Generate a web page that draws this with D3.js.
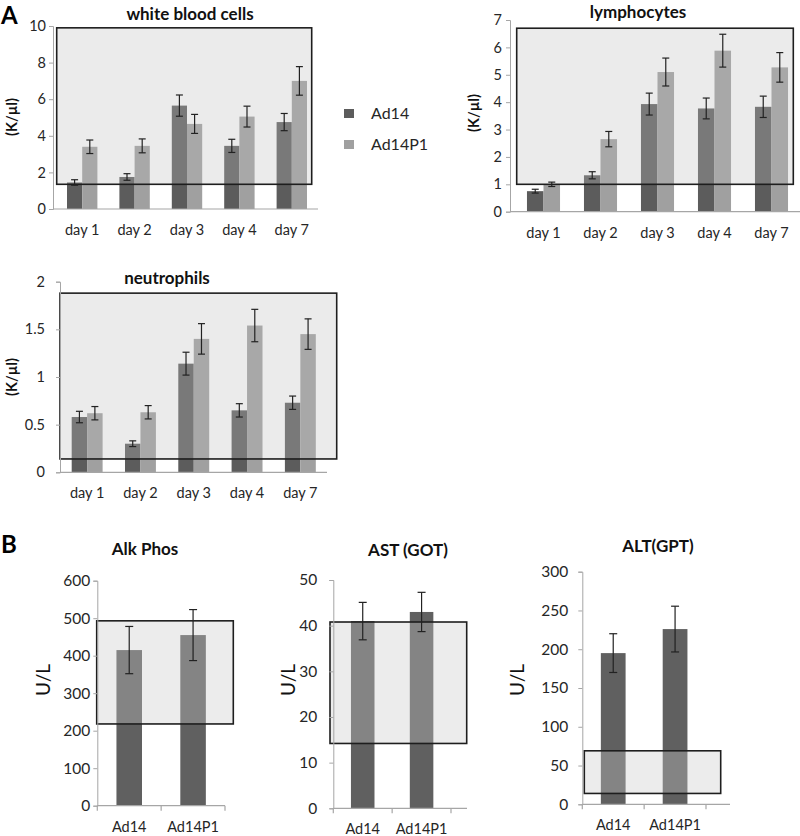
<!DOCTYPE html>
<html>
<head>
<meta charset="utf-8">
<script src="https://cdn.jsdelivr.net/npm/d3@7/dist/d3.min.js"></script>
<style>
  body { margin: 0; background: #fff; }
  svg { display: block; font-family: Lato, "Open Sans", sans-serif; }
</style>
</head>
<body>
<svg id="chart" width="800" height="836"></svg>
<script>
// ---------------- DATA ----------------
const days = ["day 1", "day 2", "day 3", "day 4", "day 7"];
const seriesNames = ["Ad14", "Ad14P1"];

const wbcAd14 = [1.45, 1.75, 5.65, 3.45, 4.75];
const wbcAd14Err = [0.15, 0.18, 0.58, 0.36, 0.47];
const wbcAd14P1 = [3.4, 3.45, 4.65, 5.05, 7.0];
const wbcAd14P1Err = [0.37, 0.38, 0.52, 0.57, 0.78];
const wbcNormal = [1.35, 9.9];
const wbcTicks = [0, 2, 4, 6, 8, 10];

const lymAd14 = [0.75, 1.33, 3.93, 3.77, 3.83];
const lymAd14Err = [0.07, 0.13, 0.4, 0.38, 0.39];
const lymAd14P1 = [1.0, 2.65, 5.1, 5.88, 5.27];
const lymAd14P1Err = [0.08, 0.28, 0.51, 0.6, 0.54];
const lymNormal = [1.0, 6.7];
const lymTicks = [0, 1, 2, 3, 4, 5, 6, 7];

const neuAd14 = [0.58, 0.3, 1.14, 0.65, 0.73];
const neuAd14Err = [0.06, 0.03, 0.12, 0.07, 0.07];
const neuAd14P1 = [0.62, 0.63, 1.4, 1.54, 1.45];
const neuAd14P1Err = [0.07, 0.07, 0.16, 0.17, 0.16];
const neuNormal = [0.14, 1.88];
const neuTicks = [0, 0.5, 1, 1.5, 2];

const viruses = ["Ad14", "Ad14P1"];
const alkValues = [415, 455];
const alkErr = [63, 68];
const alkNormal = [218, 493];
const alkTicks = [0, 100, 200, 300, 400, 500, 600];

const astValues = [41, 43];
const astErr = [4.1, 4.3];
const astNormal = [14.2, 40.8];
const astTicks = [0, 10, 20, 30, 40, 50];

const altValues = [195, 226];
const altErr = [25, 29.5];
const altNormal = [14, 69];
const altTicks = [0, 50, 100, 150, 200, 250, 300];

// ---------------- STYLE ----------------
const DARK = "#5c5c5c";
const LIGHT = "#a0a0a0";
const AXIS = "#a6a6a6";
const TEXT = "#262626";

const svg = d3.select("#chart");

function groupedChart(o) {
  const g = svg.append("g");
  const y = d3.scaleLinear().domain([0, o.ticks[o.ticks.length - 1]]).range([o.y0, o.y1]);
  const x = d3.scaleBand().domain(days).range([o.bx0, o.bx1]).paddingInner(0.42).paddingOuter(0.21);
  const xs = d3.scaleBand().domain(seriesNames).range([0, x.bandwidth()]);
  const series = [
    { name: "Ad14", vals: o.a, err: o.ae, color: DARK },
    { name: "Ad14P1", vals: o.b, err: o.be, color: LIGHT }
  ];
  series.forEach(s => {
    g.selectAll(null).data(days).enter().append("rect")
      .attr("x", (d) => x(d) + xs(s.name))
      .attr("width", xs.bandwidth())
      .attr("y", (d, i) => y(s.vals[i]))
      .attr("height", (d, i) => y(0) - y(s.vals[i]))
      .attr("fill", s.color);
  });
  g.append("rect")
    .attr("x", o.boxX0).attr("width", o.boxX1 - o.boxX0)
    .attr("y", y(o.normal[1])).attr("height", y(o.normal[0]) - y(o.normal[1]))
    .attr("fill", "rgb(190,190,190)").attr("fill-opacity", 0.3)
    .attr("stroke", "#1e1e1e").attr("stroke-width", 1.6);
  series.forEach(s => {
    days.forEach((d, i) => {
      const cx = x(d) + xs(s.name) + xs.bandwidth() / 2;
      const t = y(s.vals[i] + s.err[i]), b = y(s.vals[i] - s.err[i]);
      g.append("line").attr("x1", cx).attr("x2", cx).attr("y1", t).attr("y2", b)
        .attr("stroke", "#222").attr("stroke-width", 1.2);
      [t, b].forEach(yy => g.append("line").attr("x1", cx - 3.5).attr("x2", cx + 3.5)
        .attr("y1", yy).attr("y2", yy).attr("stroke", "#222").attr("stroke-width", 1.2));
    });
  });
  const ya = g.append("g").attr("transform", `translate(${o.ax},0)`)
    .call(d3.axisLeft(y).tickValues(o.ticks).tickSize(4).tickPadding(o.tp).tickFormat(d => String(d)));
  ya.select(".domain").attr("stroke", AXIS);
  ya.selectAll(".tick line").attr("stroke", AXIS);
  ya.selectAll(".tick text").attr("fill", TEXT).style("font-size", "14.5px").style("font-family", "Lato, sans-serif");
  g.append("line").attr("x1", o.ax).attr("x2", o.axEnd).attr("y1", y(0)).attr("y2", y(0))
    .attr("stroke", AXIS).attr("stroke-width", 1.2);
  g.selectAll(null).data(days).enter().append("text")
    .attr("x", d => x(d) + x.bandwidth() / 2).attr("y", y(0) + 26)
    .attr("text-anchor", "middle").attr("fill", TEXT).style("font-size", "14.5px")
    .text(d => d);
  g.append("text").attr("x", o.tx).attr("y", o.ty).attr("text-anchor", "middle")
    .attr("fill", "#111").style("font-size", "17px").style("font-weight", "bold").text(o.title);
  g.append("text").attr("transform", `translate(${o.lx},${o.ly}) rotate(-90)`)
    .attr("text-anchor", "middle").attr("dy", "0.35em")
    .attr("fill", "#111").style("font-size", "14.5px").style("font-weight", "bold").text("(K/µl)");
}

function singleChart(o) {
  const g = svg.append("g");
  const y = d3.scaleLinear().domain([0, o.ticks[o.ticks.length - 1]]).range([o.y0, o.y1]);
  const x = d3.scaleBand().domain(viruses).range([o.bx0, o.bx1]).paddingInner(0.6).paddingOuter(0.3);
  g.selectAll(null).data(viruses).enter().append("rect")
    .attr("x", d => x(d)).attr("width", x.bandwidth())
    .attr("y", (d, i) => y(o.vals[i])).attr("height", (d, i) => y(0) - y(o.vals[i]))
    .attr("fill", "#606060");
  g.append("rect")
    .attr("x", o.boxX0).attr("width", o.boxX1 - o.boxX0)
    .attr("y", y(o.normal[1])).attr("height", y(o.normal[0]) - y(o.normal[1]))
    .attr("fill", "rgb(200,200,200)").attr("fill-opacity", 0.35)
    .attr("stroke", "#1e1e1e").attr("stroke-width", 1.6);
  viruses.forEach((d, i) => {
    const cx = x(d) + x.bandwidth() / 2;
    const t = y(o.vals[i] + o.err[i]), b = y(o.vals[i] - o.err[i]);
    g.append("line").attr("x1", cx).attr("x2", cx).attr("y1", t).attr("y2", b)
      .attr("stroke", "#222").attr("stroke-width", 1.2);
    [t, b].forEach(yy => g.append("line").attr("x1", cx - 4).attr("x2", cx + 4)
      .attr("y1", yy).attr("y2", yy).attr("stroke", "#222").attr("stroke-width", 1.2));
  });
  const ya = g.append("g").attr("transform", `translate(${o.bx0},0)`)
    .call(d3.axisLeft(y).tickValues(o.ticks).tickSize(4).tickPadding(o.tp).tickFormat(d => String(d)));
  ya.select(".domain").attr("stroke", AXIS);
  ya.selectAll(".tick line").attr("stroke", AXIS);
  ya.selectAll(".tick text").attr("fill", TEXT).style("font-size", "15.5px").style("font-family", "Lato, sans-serif");
  g.append("line").attr("x1", o.bx0).attr("x2", o.axEnd).attr("y1", y(0)).attr("y2", y(0))
    .attr("stroke", AXIS).attr("stroke-width", 1.2);
  const bounds = [o.bx0, x(viruses[1]) - x.step() * x.paddingInner() / 2, o.bx1];
  g.selectAll(null).data(bounds).enter().append("line")
    .attr("x1", d => d).attr("x2", d => d).attr("y1", y(0)).attr("y2", y(0) + 5)
    .attr("stroke", AXIS).attr("stroke-width", 1.2);
  g.selectAll(null).data(viruses).enter().append("text")
    .attr("x", d => x(d) + x.bandwidth() / 2).attr("y", y(0) + 26)
    .attr("text-anchor", "middle").attr("fill", TEXT).style("font-size", "14.5px").text(d => d);
  g.append("text").attr("x", o.tx).attr("y", o.ty).attr("text-anchor", "middle")
    .attr("fill", "#111").style("font-size", "17px").style("font-weight", "bold").text(o.title);
  g.append("text").attr("transform", `translate(${o.lx},${o.ly}) rotate(-90)`)
    .attr("text-anchor", "middle").attr("dy", "0.35em")
    .attr("fill", "#111").style("font-size", "19px").text("U/L");
}

// ---------------- PANEL A ----------------
groupedChart({ title: "white blood cells", a: wbcAd14, ae: wbcAd14Err, b: wbcAd14P1, be: wbcAd14P1Err,
  normal: wbcNormal, ticks: wbcTicks, y0: 209, y1: 26, ax: 53, axEnd: 318, bx0: 56, bx1: 318,
  boxX0: 56.7, boxX1: 311.7, tp: 3, tx: 190, ty: 20, lx: 12, ly: 117 });

groupedChart({ title: "lymphocytes", a: lymAd14, ae: lymAd14Err, b: lymAd14P1, be: lymAd14P1Err,
  normal: lymNormal, ticks: lymTicks, y0: 211.7, y1: 20, ax: 510, axEnd: 800, bx0: 515, bx1: 800,
  boxX0: 516.7, boxX1: 793.3, tp: 4, tx: 638, ty: 18, lx: 474, ly: 113 });

groupedChart({ title: "neutrophils", a: neuAd14, ae: neuAd14Err, b: neuAd14P1, be: neuAd14P1Err,
  normal: neuNormal, ticks: neuTicks, y0: 472.3, y1: 281.7, ax: 60, axEnd: 327, bx0: 60.5, bx1: 327,
  boxX0: 60, boxX1: 336.7, tp: 11, tx: 167, ty: 284, lx: 12, ly: 377 });

// legend
seriesNames.forEach((n, i) => {
  svg.append("rect").attr("x", 344).attr("y", 109 + i * 31).attr("width", 10).attr("height", 9)
    .attr("fill", i === 0 ? DARK : LIGHT);
  svg.append("text").attr("x", 371).attr("y", 113.5 + i * 31).attr("dy", "0.35em")
    .attr("fill", TEXT).style("font-size", "16px").text(n);
});

// ---------------- PANEL B ----------------
singleChart({ title: "Alk Phos", vals: alkValues, err: alkErr, normal: alkNormal, ticks: alkTicks,
  y0: 805.7, y1: 580.7, bx0: 97.3, bx1: 225, axEnd: 225, boxX0: 96.7, boxX1: 233.3, tp: 3,
  tx: 145, ty: 555, lx: 43, ly: 680 });

singleChart({ title: "AST (GOT)", vals: astValues, err: astErr, normal: astNormal, ticks: astTicks,
  y0: 808.3, y1: 580, bx0: 333.3, bx1: 451, axEnd: 467, boxX0: 330, boxX1: 466.7, tp: 12,
  tx: 408, ty: 556, lx: 288, ly: 680 });

singleChart({ title: "ALT(GPT)", vals: altValues, err: altErr, normal: altNormal, ticks: altTicks,
  y0: 804.3, y1: 571.7, bx0: 582.3, bx1: 706, axEnd: 730, boxX0: 584.3, boxX1: 720.7, tp: 10,
  tx: 658, ty: 552, lx: 517, ly: 680 });

// panel letters
svg.append("text").attr("x", 1).attr("y", 24).attr("fill", "#000")
  .style("font-size", "24px").style("font-weight", "bold").text("A");
svg.append("text").attr("x", 1).attr("y", 553).attr("fill", "#000")
  .style("font-size", "24px").style("font-weight", "bold").text("B");
</script>
</body>
</html>
